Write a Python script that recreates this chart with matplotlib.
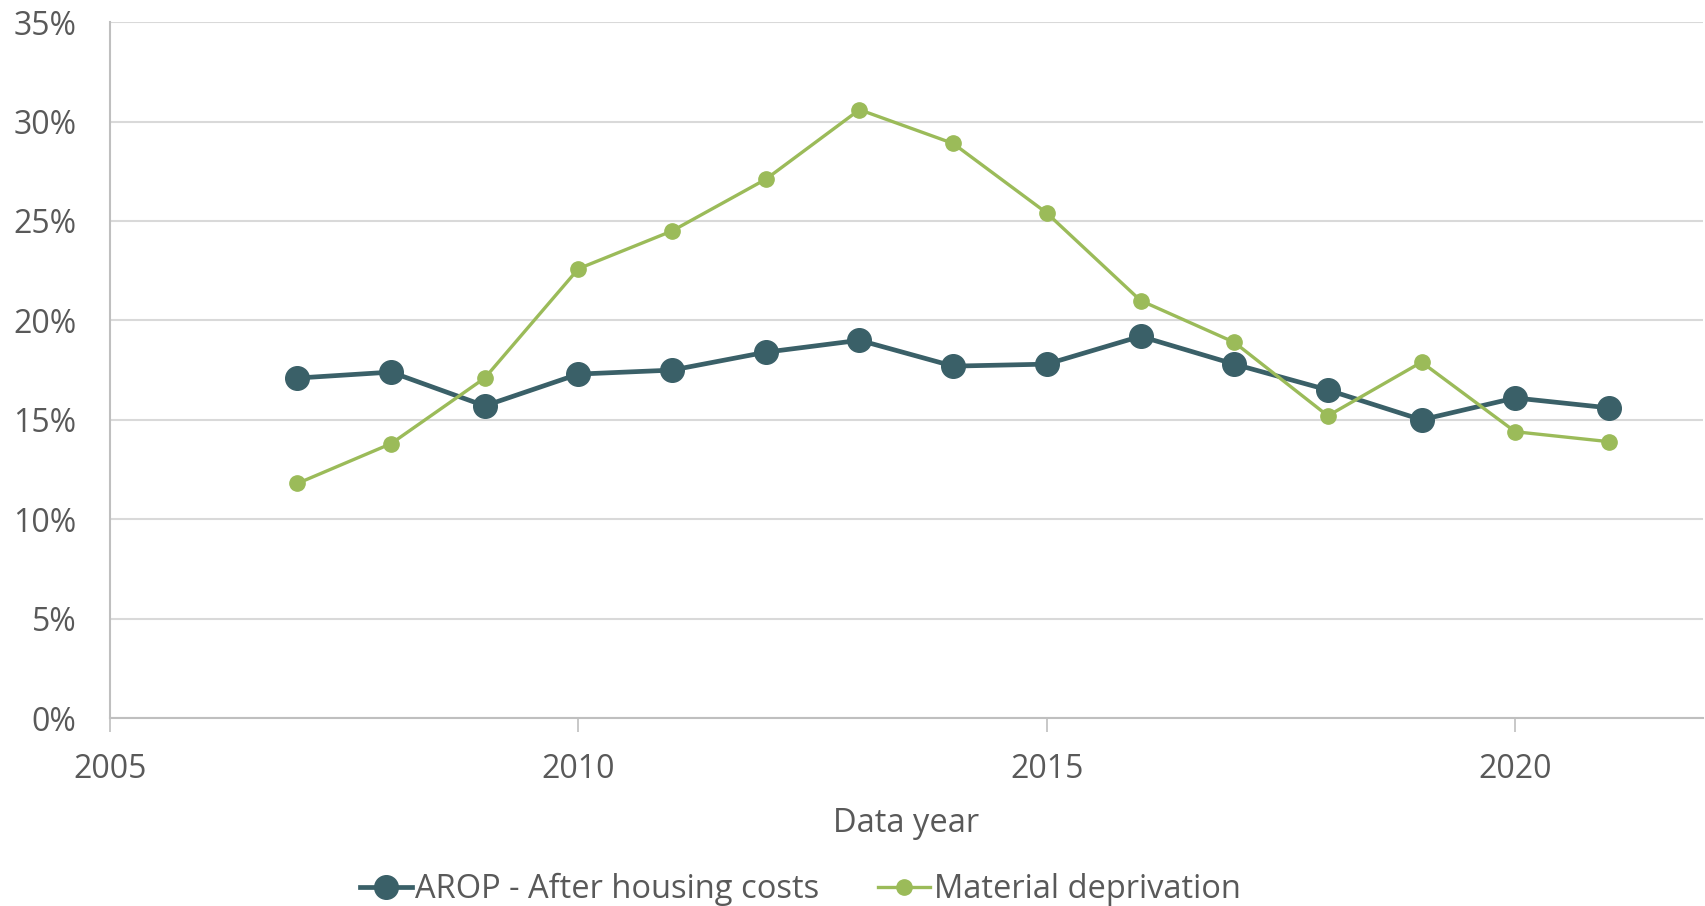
import matplotlib
matplotlib.use("Agg")
import matplotlib.pyplot as plt
from matplotlib.ticker import PercentFormatter

years = [2007, 2008, 2009, 2010, 2011, 2012, 2013, 2014,
         2015, 2016, 2017, 2018, 2019, 2020, 2021]
arop_ahc = [17.1, 17.4, 15.7, 17.3, 17.5, 18.4, 19.0, 17.7,
            17.8, 19.2, 17.8, 16.5, 15.0, 16.1, 15.6]
material_dep = [11.8, 13.8, 17.1, 22.6, 24.5, 27.1, 30.6, 28.9,
                25.4, 21.0, 18.9, 15.2, 17.9, 14.4, 13.9]
x_ticks = [2005, 2010, 2015, 2020]
y_ticks = [0, 5, 10, 15, 20, 25, 30, 35]

text_col = "#595959"
plt.rcParams["font.family"] = ["Open Sans", "DejaVu Sans"]

fig = plt.figure(figsize=(17.06, 9.06), dpi=100)
ax = fig.add_axes([0.0645, 0.2075, 0.9335, 0.768])

ax.plot(years, arop_ahc, color="#3A6068", linewidth=3.4, marker="o",
        markersize=17, label="AROP - After housing costs", zorder=3)
ax.plot(years, material_dep, color="#9BBB59", linewidth=2.4, marker="o",
        markersize=11, label="Material deprivation", zorder=4)

ax.set_xlim(2005, 2022)
ax.set_ylim(0, 35)
ax.set_xticks(x_ticks)
ax.set_yticks(y_ticks)
ax.yaxis.set_major_formatter(PercentFormatter(decimals=0))

ax.grid(axis="y", color="#D9D9D9", linewidth=1.5)
ax.set_axisbelow(True)
for side in ["top", "right"]:
    ax.spines[side].set_visible(False)
ax.spines["left"].set_color("#BFBFBF")
ax.spines["bottom"].set_color("#BFBFBF")
ax.spines["left"].set_linewidth(1.5)
ax.spines["bottom"].set_linewidth(1.5)

ax.tick_params(axis="x", direction="out", length=10, width=1.2,
               color="#BFBFBF", labelsize=23, labelcolor=text_col, pad=15)
ax.tick_params(axis="y", length=0, labelsize=23, labelcolor=text_col, pad=24)

ax.set_xlabel("Data year", fontsize=23.5, color=text_col, labelpad=15)

fig.legend(loc="center", bbox_to_anchor=(0.469, 0.018), ncol=2,
           frameon=False, fontsize=23.5, labelcolor=text_col,
           handlelength=1.6, handletextpad=0.1, columnspacing=1.8)

fig.savefig("out.png", dpi=100)
